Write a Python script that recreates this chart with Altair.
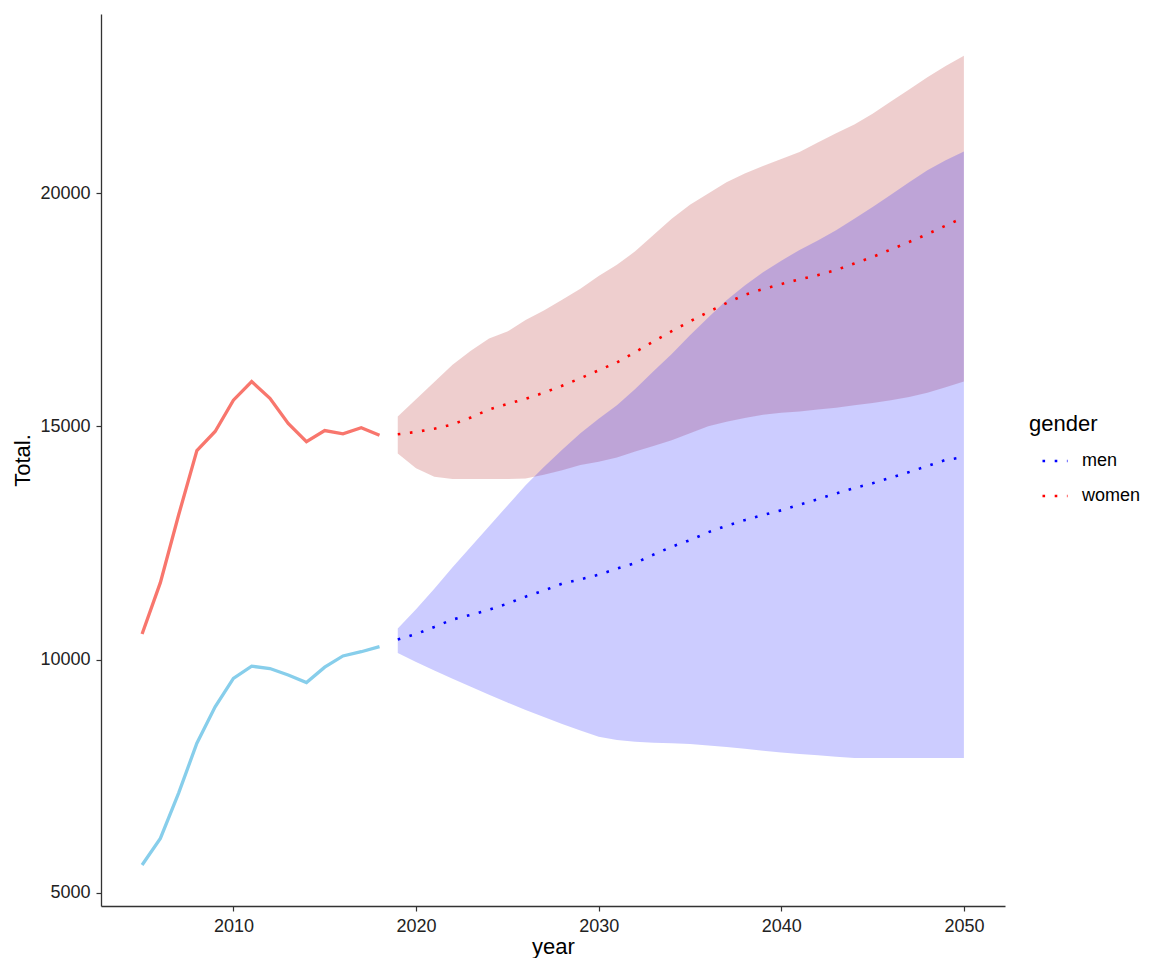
import altair as alt
import pandas as pd

# Historical data
years_hist = list(range(2005, 2019))
women_hist = [10550, 11650, 13100, 14480, 14890, 15560, 15960, 15600, 15060, 14670, 14910, 14840, 14970, 14810]
men_hist = [5600, 6170, 7140, 8210, 8990, 9600, 9860, 9810, 9670, 9510, 9840, 10080, 10170, 10280]

# Forecast data
years_fc = list(range(2019, 2051))
women_mean = [14830, 14880, 14950, 15040, 15190, 15360, 15480, 15590, 15720, 15870, 16030, 16200,
              16370, 16590, 16820, 17040, 17250, 17450, 17640, 17820, 17940, 18050, 18150, 18240,
              18350, 18490, 18630, 18790, 18950, 19120, 19300, 19480]
women_low = [14420, 14100, 13920, 13870, 13870, 13870, 13870, 13880, 13960, 14060, 14170, 14240,
             14330, 14460, 14580, 14700, 14850, 15000, 15100, 15180, 15250, 15290, 15320, 15360,
             15400, 15450, 15500, 15560, 15630, 15720, 15840, 15960]
women_high = [15210, 15580, 15950, 16320, 16620, 16880, 17030, 17280, 17480, 17710, 17950, 18220,
              18460, 18750, 19100, 19450, 19750, 19990, 20230, 20420, 20580, 20730, 20880, 21080,
              21280, 21470, 21700, 21960, 22220, 22480, 22720, 22940]
men_mean = [10430, 10550, 10700, 10860, 10960, 11070, 11200, 11350, 11480, 11630, 11720, 11820,
            11950, 12070, 12250, 12420, 12560, 12730, 12870, 12990, 13100, 13200, 13320, 13440,
            13560, 13680, 13780, 13900, 14020, 14150, 14280, 14340]
men_low = [10140, 9950, 9770, 9590, 9420, 9250, 9080, 8920, 8770, 8620, 8480, 8350,
           8280, 8240, 8220, 8210, 8190, 8160, 8130, 8090, 8050, 8010, 7980, 7950,
           7920, 7890, 7890, 7890, 7890, 7890, 7890, 7890]
men_high = [10670, 11080, 11520, 11980, 12420, 12860, 13300, 13740, 14130, 14500, 14850, 15160,
            15450, 15800, 16180, 16550, 16950, 17330, 17700, 18020, 18300, 18550, 18780, 18980,
            19200, 19450, 19700, 19960, 20230, 20490, 20700, 20890]

genders = ["men", "women"]
x_ticks = [2010, 2020, 2030, 2040, 2050]
y_ticks = [5000, 10000, 15000, 20000]

hist = pd.DataFrame({
    "year": years_hist * 2,
    "total": men_hist + women_hist,
    "gender": ["men"] * len(years_hist) + ["women"] * len(years_hist),
})
fc = pd.DataFrame({
    "year": years_fc * 2,
    "mean": men_mean + women_mean,
    "low": men_low + women_low,
    "high": men_high + women_high,
    "gender": ["men"] * len(years_fc) + ["women"] * len(years_fc),
})

xs = alt.Scale(domain=[2002.75, 2052.25], nice=False, zero=False)
ys = alt.Scale(domain=[4721, 23836], nice=False, zero=False)

xaxis = alt.Axis(values=x_ticks, format="d", title="year", grid=False,
                 titleY=40, titleBaseline="middle", titleFontSize=22, titleFontWeight="normal")
yaxis = alt.Axis(values=y_ticks, format="d", title="Total.", grid=False,
                 titleX=-79, titleY=446, titleAngle=-90, titleAlign="center",
                 titleBaseline="middle", titleFontSize=22, titleFontWeight="normal")

X = alt.X("year:Q", scale=xs, axis=xaxis)

band_w = alt.Chart(fc).transform_filter(alt.datum.gender == "women").mark_area(
    color="#B22222", opacity=0.22).encode(
    x=X, y=alt.Y("low:Q", scale=ys, axis=yaxis), y2="high:Q")
band_m = alt.Chart(fc).transform_filter(alt.datum.gender == "men").mark_area(
    color="#0000FF", opacity=0.2).encode(
    x=X, y=alt.Y("low:Q", scale=ys, axis=yaxis), y2="high:Q")

hist_w = alt.Chart(hist).transform_filter(alt.datum.gender == "women").mark_line(
    color="#F8766D", strokeWidth=3.3).encode(
    x=X, y=alt.Y("total:Q", scale=ys, axis=yaxis))
hist_m = alt.Chart(hist).transform_filter(alt.datum.gender == "men").mark_line(
    color="#87CEEB", strokeWidth=3.3).encode(
    x=X, y=alt.Y("total:Q", scale=ys, axis=yaxis))

fc_lines = alt.Chart(fc).mark_line(strokeWidth=2.6, strokeDash=[2.6, 9.6]).encode(
    x=X,
    y=alt.Y("mean:Q", scale=ys, axis=yaxis),
    color=alt.Color("gender:N",
                    scale=alt.Scale(domain=genders, range=["#0000FF", "#FF0000"]),
                    legend=alt.Legend(title="gender", orient="none", legendX=928, legendY=400,
                                      titleFontSize=22, titleFontWeight="normal",
                                      labelFontSize=18, symbolType="stroke",
                                      symbolStrokeWidth=2.6, symbolDash=[2.6, 9.6],
                                      symbolSize=625, symbolOffset=12, labelOffset=13,
                                      rowPadding=12, titlePadding=11, labelLimit=200)),
)

chart = alt.layer(band_w, band_m, hist_w, hist_m, fc_lines).properties(
    width=904, height=892,
    autosize=alt.AutoSizeParams(type="none"),
    padding={"left": 93, "top": 6, "right": 136, "bottom": 52},
).configure_view(stroke=None).configure_axis(
    domainColor="#333333", domainWidth=1.3, tickColor="#333333", tickWidth=1.2, tickSize=5,
    labelFontSize=18, labelColor="#222222", labelPadding=6, titleColor="#000000",
    labelFont="Liberation Sans", titleFont="Liberation Sans",
).configure_legend(
    labelFont="Liberation Sans", titleFont="Liberation Sans", labelColor="#000000", titleColor="#000000"
)

chart.save("out.html", embed_options={"renderer": "svg", "actions": False})
